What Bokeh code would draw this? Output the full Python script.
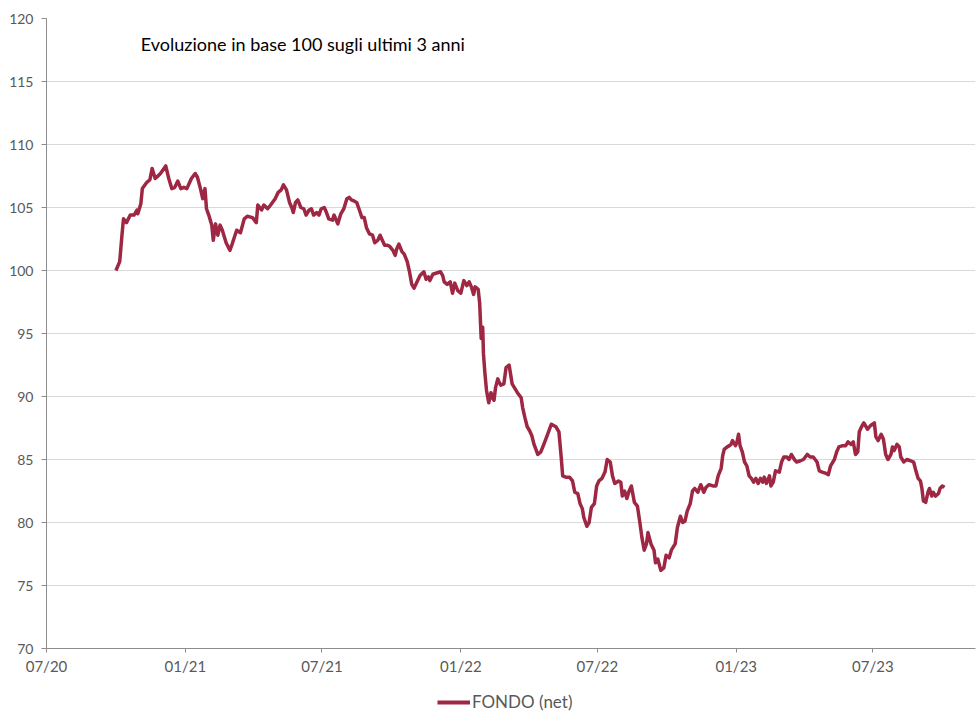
import pandas as pd
from bokeh.plotting import figure
from bokeh.layouts import column
from bokeh.models import (Range1d, FixedTicker, DatetimeTickFormatter, Legend,
                          LegendItem, Label, ColumnDataSource)
from bokeh.embed import file_html
from bokeh.resources import INLINE

# ---------------- data ----------------
dates = [
"2020-10-01","2020-10-06","2020-10-09","2020-10-11","2020-10-15","2020-10-20","2020-10-25","2020-10-29","2020-10-30",
"2020-11-03","2020-11-05","2020-11-11","2020-11-15","2020-11-18","2020-11-22","2020-11-24","2020-11-29",
"2020-12-06","2020-12-10","2020-12-14","2020-12-18","2020-12-22","2020-12-26","2020-12-30",
"2021-01-03","2021-01-06","2021-01-09","2021-01-14","2021-01-17","2021-01-21","2021-01-24","2021-01-27","2021-01-29",
"2021-02-01","2021-02-05","2021-02-07","2021-02-10","2021-02-13","2021-02-16","2021-02-19","2021-02-24",
"2021-03-01","2021-03-04","2021-03-10","2021-03-15","2021-03-20","2021-03-24","2021-03-31",
"2021-04-05","2021-04-07","2021-04-12","2021-04-15","2021-04-20","2021-04-24","2021-04-30",
"2021-05-04","2021-05-08","2021-05-11","2021-05-15","2021-05-19","2021-05-22","2021-05-24","2021-05-27","2021-05-30",
"2021-06-03","2021-06-07","2021-06-10","2021-06-14","2021-06-17","2021-06-20","2021-06-24","2021-06-27","2021-06-30",
"2021-07-04","2021-07-07","2021-07-10","2021-07-15","2021-07-17","2021-07-22","2021-07-26","2021-07-30",
"2021-08-03","2021-08-06","2021-08-09","2021-08-13","2021-08-16","2021-08-19","2021-08-23","2021-08-26","2021-08-29",
"2021-09-02","2021-09-06","2021-09-09","2021-09-13","2021-09-16","2021-09-19","2021-09-22","2021-09-26","2021-09-29",
"2021-10-03","2021-10-06","2021-10-08","2021-10-11","2021-10-15","2021-10-18","2021-10-22","2021-10-25","2021-10-28","2021-10-31",
"2021-11-04","2021-11-08","2021-11-13","2021-11-16","2021-11-19","2021-11-21","2021-11-25","2021-11-30",
"2021-12-05","2021-12-08","2021-12-10","2021-12-14","2021-12-18","2021-12-21","2021-12-24","2021-12-28",
"2022-01-01","2022-01-05","2022-01-09","2022-01-12","2022-01-15","2022-01-18","2022-01-20","2022-01-24","2022-01-26","2022-01-27","2022-01-28","2022-01-30","2022-01-31",
"2022-02-02","2022-02-04","2022-02-07","2022-02-10","2022-02-12","2022-02-14","2022-02-16","2022-02-19","2022-02-21","2022-02-23","2022-02-27",
"2022-03-02","2022-03-06","2022-03-10","2022-03-13","2022-03-17","2022-03-22","2022-03-24","2022-03-27","2022-03-30",
"2022-04-02","2022-04-05","2022-04-08","2022-04-13","2022-04-17","2022-04-21","2022-04-26",
"2022-05-01","2022-05-07","2022-05-11","2022-05-14","2022-05-16","2022-05-20","2022-05-25","2022-05-29",
"2022-06-01","2022-06-05","2022-06-08","2022-06-11","2022-06-13","2022-06-17","2022-06-20","2022-06-23","2022-06-27","2022-06-30",
"2022-07-03","2022-07-07","2022-07-11","2022-07-14","2022-07-18","2022-07-21","2022-07-24","2022-07-29",
"2022-08-01","2022-08-03","2022-08-06","2022-08-09","2022-08-12","2022-08-15","2022-08-19","2022-08-23","2022-08-26","2022-08-29",
"2022-09-01","2022-09-04","2022-09-06","2022-09-10","2022-09-14","2022-09-16","2022-09-19","2022-09-23","2022-09-27","2022-09-30",
"2022-10-04","2022-10-07","2022-10-12","2022-10-15","2022-10-19","2022-10-22","2022-10-25","2022-10-28",
"2022-11-01","2022-11-04","2022-11-07","2022-11-11","2022-11-15","2022-11-19","2022-11-22","2022-11-26",
"2022-12-01","2022-12-05","2022-12-08","2022-12-12","2022-12-14","2022-12-16","2022-12-20","2022-12-23","2022-12-25","2022-12-27","2022-12-31",
"2023-01-02","2023-01-04","2023-01-06","2023-01-09","2023-01-12","2023-01-15","2023-01-18","2023-01-21","2023-01-24","2023-01-27","2023-01-30",
"2023-02-02","2023-02-05","2023-02-07","2023-02-10","2023-02-14","2023-02-16","2023-02-19","2023-02-22","2023-02-27",
"2023-03-02","2023-03-05","2023-03-09","2023-03-12","2023-03-15","2023-03-19","2023-03-22","2023-03-27","2023-03-31",
"2023-04-05","2023-04-09","2023-04-13","2023-04-18","2023-04-21","2023-04-25","2023-04-30",
"2023-05-03","2023-05-06","2023-05-11","2023-05-14","2023-05-17","2023-05-22","2023-05-26","2023-05-29",
"2023-06-02","2023-06-05","2023-06-08","2023-06-11","2023-06-13","2023-06-16","2023-06-19","2023-06-24","2023-06-28",
"2023-07-03","2023-07-05","2023-07-08","2023-07-12","2023-07-15","2023-07-18","2023-07-21","2023-07-25","2023-07-27","2023-07-29",
"2023-08-02","2023-08-05","2023-08-07","2023-08-11","2023-08-15","2023-08-20","2023-08-24","2023-08-27","2023-08-30",
"2023-09-02","2023-09-04","2023-09-06","2023-09-09","2023-09-12","2023-09-14","2023-09-17","2023-09-19","2023-09-22","2023-09-26","2023-09-28",
"2023-10-01","2023-10-04",
]

fondo_net = [
100.0,100.7,102.8,104.1,103.8,104.4,104.4,104.8,104.5,
105.3,106.5,107.0,107.2,108.1,107.3,107.4,107.7,
108.3,107.3,106.5,106.6,107.1,106.5,106.6,
106.5,106.9,107.3,107.7,107.4,106.5,105.7,106.5,104.9,
104.4,103.6,102.4,103.7,102.8,103.6,103.2,102.2,
101.6,102.1,103.2,103.0,104.1,104.3,104.2,
103.8,105.2,104.8,105.2,104.9,105.2,105.7,
106.2,106.4,106.8,106.4,105.4,105.0,104.6,105.4,105.6,
105.0,104.9,104.4,104.8,104.9,104.4,104.6,104.4,104.9,
105.0,104.6,104.1,104.0,104.4,103.7,104.5,104.9,
105.7,105.8,105.6,105.5,105.4,104.9,104.2,104.2,103.4,
102.9,102.8,102.2,102.4,102.8,102.4,102.0,102.0,101.9,
101.6,101.2,101.7,102.1,101.5,101.3,100.7,99.9,98.9,98.6,
99.1,99.6,99.9,99.3,99.5,99.2,99.7,99.8,
99.9,99.6,99.1,98.9,99.1,98.2,99.0,98.4,
98.2,99.2,98.8,99.1,98.7,98.1,98.7,98.5,97.4,96.0,94.6,95.5,93.4,
91.8,90.5,89.5,90.3,89.9,89.7,90.7,91.4,91.1,90.9,91.0,
92.3,92.5,91.0,90.7,90.3,89.9,89.1,88.3,87.6,
87.3,86.9,86.2,85.4,85.6,86.2,87.0,
87.8,87.6,87.2,85.2,83.7,83.6,83.6,83.3,
82.4,82.3,81.5,81.1,80.4,79.7,80.0,81.2,81.5,82.9,
83.3,83.5,84.0,85.0,84.8,83.7,83.1,83.3,
83.2,82.1,82.5,81.9,82.5,82.9,81.6,81.3,80.1,78.8,
77.8,78.3,79.2,78.3,77.8,76.8,77.1,76.2,76.4,77.4,
77.2,77.8,78.3,79.6,80.5,80.0,80.1,80.9,
81.5,82.5,82.7,82.4,83.0,82.4,82.8,83.0,
82.9,82.9,83.7,84.3,85.3,85.8,86.0,86.1,86.2,86.5,86.1,
86.4,87.0,86.1,85.6,84.8,84.5,83.7,83.5,83.2,83.5,83.1,
83.5,83.2,83.6,83.1,83.7,82.9,83.2,84.1,84.0,
84.8,85.2,85.2,85.0,85.4,85.0,84.8,84.9,85.0,
85.4,85.2,85.2,84.8,84.1,84.0,83.9,
83.8,84.5,85.0,85.6,86.0,86.1,86.1,86.4,
86.2,86.4,85.4,85.6,87.2,87.6,87.9,87.4,87.7,
87.9,86.8,86.5,87.0,86.6,85.4,85.0,85.4,86.0,85.7,
86.2,86.0,85.2,84.8,85.0,84.9,84.8,84.1,83.5,
83.3,82.7,81.7,81.6,82.4,82.7,82.1,82.4,82.1,82.3,82.7,
82.9,82.8,
]

series_name = "FONDO (net)"
chart_note = "Evoluzione in base 100 sugli ultimi 3 anni"
x_tick_dates = ["2020-07-01", "2021-01-01", "2021-07-01", "2022-01-01",
                "2022-07-01", "2023-01-01", "2023-07-01"]
y_ticks = [70, 75, 80, 85, 90, 95, 100, 105, 110, 115, 120]

assert len(dates) == len(fondo_net)

# ---------------- figure ----------------
FONT = "Lato"
TICK_COLOR = "#595959"
LINE_COLOR = "#9e2743"

def ms(s):
    return pd.Timestamp(s).value / 1e6

src = ColumnDataSource(dict(date=pd.to_datetime(dates), value=fondo_net))

p = figure(width=977, height=680, output_backend="svg", toolbar_location=None,
           x_axis_type="datetime",
           x_range=Range1d(ms("2020-07-01"), ms("2023-11-14")),
           y_range=Range1d(70, 120),
           min_border_left=46, min_border_right=2, min_border_top=18,
           min_border_bottom=32)
p.outline_line_color = None
p.background_fill_color = "white"
p.border_fill_color = "white"

r = p.line(x="date", y="value", source=src, line_width=3.5,
           line_color=LINE_COLOR, line_join="round")

# axes
p.xaxis.ticker = FixedTicker(ticks=[ms(d) for d in x_tick_dates])
fmt = "%m/%y"
p.xaxis.formatter = DatetimeTickFormatter(years=fmt, months=fmt, days=fmt,
                                          hours=fmt, minutes=fmt)
p.yaxis.ticker = FixedTicker(ticks=y_ticks)

for ax in (p.xaxis[0], p.yaxis[0]):
    ax.axis_line_color = "#8c8c8c"
    ax.axis_line_width = 1
    ax.major_tick_line_color = "#8c8c8c"
    ax.minor_tick_line_color = None
    ax.major_tick_in = 0
    ax.major_label_text_font = FONT
    ax.major_label_text_font_size = "14px"
    ax.major_label_text_color = TICK_COLOR
p.xaxis.major_label_text_font_size = "15px"
p.xaxis.major_tick_out = 4
p.xaxis.major_label_standoff = 4
p.yaxis.major_tick_out = 5
p.yaxis.major_label_standoff = 8

p.xgrid.visible = False
p.ygrid.grid_line_color = "#d9d9d9"
p.ygrid.grid_line_width = 1

# note inside plot
p.add_layout(Label(x=ms("2020-11-03"), y=117.95, text=chart_note,
                   text_font=FONT, text_font_size="18px", text_color="#000000",
                   text_baseline="middle", text_align="left"))

# ---------------- legend strip below ----------------
# the same series is drawn here outside the visible ranges, only so that the
# legend has a renderer to take its line style from
p2 = figure(width=977, height=32, output_backend="svg", toolbar_location=None,
            x_range=Range1d(0, 1), y_range=Range1d(0, 1),
            min_border_left=0, min_border_right=0, min_border_top=0,
            min_border_bottom=0)
p2.axis.visible = False
p2.grid.visible = False
p2.outline_line_color = None
p2.background_fill_color = "white"
p2.border_fill_color = "white"
r2 = p2.line(x="date", y="value", source=src, line_width=4,
             line_color=LINE_COLOR)

legend = Legend(items=[LegendItem(label=series_name, renderers=[r2])],
                location=(391, 0), orientation="horizontal",
                border_line_color=None, background_fill_alpha=0,
                padding=0, margin=0, glyph_width=33, glyph_height=20,
                label_standoff=2, label_text_font=FONT,
                label_text_font_size="17px", label_text_color=TICK_COLOR)
p2.add_layout(legend)

layout = column(p, p2, spacing=0)

open("out.html", "w").write(file_html(layout, INLINE))
